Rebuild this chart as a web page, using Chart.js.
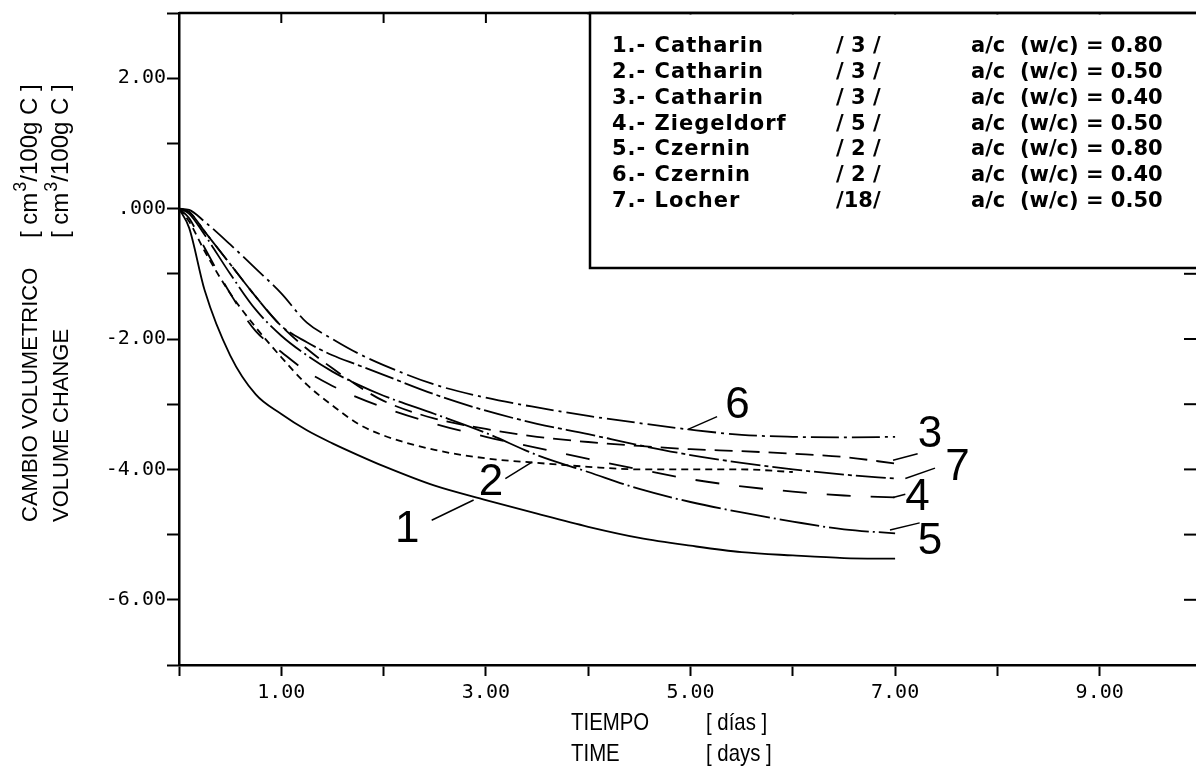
<!DOCTYPE html>
<html>
<head>
<meta charset="utf-8">
<script src="https://cdn.jsdelivr.net/npm/chart.js@4.4.1/dist/chart.umd.min.js"></script>
<style>
  html, body { margin: 0; padding: 0; background: #fff; overflow: hidden; }
  #wrap { position: absolute; left: 0; top: 0; width: 1215px; height: 769px; }
</style>
</head>
<body>
<div id="wrap"><canvas id="myChart" width="1215" height="769"></canvas></div>
<script>
// time in days, shared by all curves
let days = [0, 0.1, 0.25, 0.5, 0.75, 1, 1.25, 1.5, 1.75, 2, 2.5, 3, 3.5, 4, 4.5, 5, 5.5, 6, 6.5, 7];

// volume change [cm3/100g C]
let vol1 = [0, -0.3, -1.25, -2.25, -2.85, -3.15, -3.4, -3.6, -3.78, -3.95, -4.25, -4.47, -4.68, -4.88, -5.05, -5.17, -5.27, -5.32, -5.36, -5.37];
let vol2 = [0, -0.2, -0.65, -1.3, -1.82, -2.28, -2.7, -3.02, -3.3, -3.48, -3.7, -3.83, -3.9, -3.96, -4.0, -4.0, -4.0, -4.04, null, null];
let vol3 = [0, -0.05, -0.35, -0.85, -1.35, -1.8, -2.15, -2.45, -2.72, -2.95, -3.22, -3.38, -3.5, -3.58, -3.64, -3.69, -3.72, -3.76, -3.81, -3.91];
let vol4 = [0, -0.15, -0.6, -1.3, -1.88, -2.2, -2.5, -2.72, -2.9, -3.05, -3.3, -3.5, -3.67, -3.84, -4.0, -4.15, -4.26, -4.34, -4.4, -4.43];
let vol5 = [0, -0.08, -0.4, -1.0, -1.55, -1.95, -2.25, -2.5, -2.7, -2.87, -3.15, -3.44, -3.78, -4.04, -4.3, -4.5, -4.66, -4.8, -4.92, -4.98];
let vol6 = [0, -0.02, -0.2, -0.55, -0.92, -1.3, -1.75, -2.0, -2.22, -2.4, -2.7, -2.9, -3.05, -3.18, -3.29, -3.39, -3.47, -3.5, -3.51, -3.5];
let vol7 = [0, -0.05, -0.35, -0.85, -1.35, -1.8, -2.05, -2.25, -2.4, -2.55, -2.85, -3.1, -3.3, -3.46, -3.63, -3.78, -3.9, -4.0, -4.08, -4.14];

// legend table
let authors = ["1.- Catharin", "2.- Catharin", "3.- Catharin", "4.- Ziegeldorf", "5.- Czernin", "6.- Czernin", "7.- Locher"];
let refs = ["/ 3 /", "/ 3 /", "/ 3 /", "/ 5 /", "/ 2 /", "/ 2 /", "/18/"];
let ratios = ["a/c  (w/c) = 0.80", "a/c  (w/c) = 0.50", "a/c  (w/c) = 0.40", "a/c  (w/c) = 0.50", "a/c  (w/c) = 0.80", "a/c  (w/c) = 0.40", "a/c  (w/c) = 0.50"];

// curve number labels and their leader lines (data units)
let curveNames = ["1", "2", "3", "4", "5", "6", "7"];
let nameX = [2.23, 3.05, 7.34, 7.22, 7.34, 5.46, 7.61];
let nameY = [-4.89, -4.18, -3.44, -4.40, -5.08, -2.99, -3.95];
let leaderFrom = [[2.88, -4.47], [3.45, -3.89], [6.98, -3.86], [6.98, -4.43], [6.95, -4.93], [4.97, -3.39], [7.10, -4.14]];
let leaderTo = [[2.47, -4.78], [3.19, -4.14], [7.22, -3.76], [7.10, -4.38], [7.24, -4.82], [5.26, -3.19], [7.39, -3.98]];

let dashes = [[], [7, 5], [18, 9], [24, 20], [40, 4, 2, 4], [28, 5, 3, 5], [30, 4, 4, 4]];

let curves = [vol1, vol2, vol3, vol4, vol5, vol6, vol7];
let datasets = curves.map((vals, i) => ({
  data: days.map((d, k) => ({ x: d, y: vals[k] })),
  borderColor: "#000",
  borderWidth: 1.8,
  borderDash: dashes[i],
  pointRadius: 0,
  fill: false,
  cubicInterpolationMode: "monotone",
  spanGaps: false
}));

const overlay = {
  id: "overlay",
  afterDraw(chart) {
    const c = chart.ctx;
    const a = chart.chartArea;
    const xs = chart.scales.x, ys = chart.scales.y;
    c.save();
    c.strokeStyle = "#000";
    c.fillStyle = "#000";

    // top and right frame with inward ticks
    c.lineWidth = 2.5;
    c.beginPath();
    c.moveTo(a.left, a.top); c.lineTo(a.right, a.top); c.lineTo(a.right, a.bottom);
    c.stroke();
    c.lineWidth = 2;
    for (let v = 1; v < 10; v++) {
      const px = xs.getPixelForValue(v);
      c.beginPath(); c.moveTo(px, a.top); c.lineTo(px, a.top + 10); c.stroke();
    }
    for (let v = -6; v < 3; v++) {
      const py = ys.getPixelForValue(v);
      c.beginPath(); c.moveTo(a.right, py); c.lineTo(a.right - 18, py); c.stroke();
    }

    // legend box
    const boxL = 590, boxB = 268;
    c.fillStyle = "#fff";
    c.fillRect(boxL - 3, a.top + 1.5, chart.width - boxL + 3, boxB - a.top - 1.5);
    c.lineWidth = 2.5;
    c.beginPath();
    c.moveTo(chart.width, a.top); c.lineTo(boxL, a.top); c.lineTo(boxL, boxB); c.lineTo(chart.width, boxB);
    c.stroke();
    c.fillStyle = "#000";
    c.textBaseline = "middle";
    c.textAlign = "left";
    for (let i = 0; i < authors.length; i++) {
      const y = 47 + i * 25.7;
      c.font = 'bold 21px "DejaVu Sans", sans-serif';
      if ("letterSpacing" in c) c.letterSpacing = "1px";
      c.fillText(authors[i], 612, y);
      if ("letterSpacing" in c) c.letterSpacing = "0px";
      c.fillText(refs[i], 836, y);
      c.fillText(ratios[i], 971, y);
    }

    // curve numbers + leaders
    c.lineWidth = 1.5;
    for (let i = 0; i < curveNames.length; i++) {
      c.beginPath();
      c.moveTo(xs.getPixelForValue(leaderFrom[i][0]), ys.getPixelForValue(leaderFrom[i][1]));
      c.lineTo(xs.getPixelForValue(leaderTo[i][0]), ys.getPixelForValue(leaderTo[i][1]));
      c.stroke();
    }
    c.font = '44px "Liberation Sans", Arial, sans-serif';
    c.textAlign = "center";
    c.textBaseline = "middle";
    for (let i = 0; i < curveNames.length; i++) {
      c.fillText(curveNames[i], xs.getPixelForValue(nameX[i]), ys.getPixelForValue(nameY[i]) + 2);
    }

    // y axis title (rotated, two lines)
    c.save();
    c.rotate(-Math.PI / 2);
    c.textAlign = "left";
    c.textBaseline = "alphabetic";
    const yLines = ["CAMBIO VOLUMETRICO", "VOLUME CHANGE"];
    const yBase = [37, 68];
    for (let i = 0; i < 2; i++) {
      c.font = '22px "Liberation Sans", Arial, sans-serif';
      c.fillText(yLines[i], -522, yBase[i]);
      c.font = '24px "Liberation Sans", Arial, sans-serif';
      let x = -238;
      c.fillText("[ cm", x, yBase[i]);
      x += c.measureText("[ cm").width;
      c.font = '18px "Liberation Sans", Arial, sans-serif';
      c.fillText("3", x + 1, yBase[i] - 11);
      x += c.measureText("3").width + 1;
      c.font = '24px "Liberation Sans", Arial, sans-serif';
      c.fillText("/100g C ]", x, yBase[i]);
    }
    c.restore();

    // x axis title (condensed)
    c.save();
    c.textAlign = "left";
    c.textBaseline = "alphabetic";
    c.font = '24px "Liberation Sans", Arial, sans-serif';
    c.scale(0.85, 1);
    c.fillText("TIEMPO", 571 / 0.85, 730);
    c.fillText("TIME", 571 / 0.85, 761);
    c.fillText("[ días ]", 706 / 0.85, 730);
    c.fillText("[ days ]", 706 / 0.85, 761);
    c.restore();
    c.restore();
  }
};

let ctx = document.getElementById("myChart").getContext("2d");

let myChart = new Chart(ctx, {
  type: "line",
  data: { datasets: datasets },
  plugins: [overlay],
  options: {
    responsive: false,
    animation: false,
    devicePixelRatio: 1,
    layout: { padding: { left: 0, top: 10, right: 13, bottom: 0 } },
    plugins: { legend: { display: false }, tooltip: { enabled: false } },
    scales: {
      x: {
        type: "linear",
        min: 0,
        max: 10,
        afterFit: (s) => { s.height = 104; },
        grid: { drawOnChartArea: false, color: "#000", tickLength: 11, tickWidth: 2 },
        border: { display: true, color: "#000", width: 2.5 },
        ticks: {
          stepSize: 1,
          autoSkip: false,
          maxRotation: 0,
          padding: 5,
          color: "#000",
          font: { family: '"DejaVu Sans Mono", monospace', size: 20 },
          callback: (v) => (v % 2 === 1 ? v.toFixed(2) : "")
        }
      },
      y: {
        min: -7,
        max: 3,
        afterFit: (s) => { s.width = 179; },
        grid: { drawOnChartArea: false, color: "#000", tickLength: 12, tickWidth: 2 },
        border: { display: true, color: "#000", width: 2.5 },
        ticks: {
          stepSize: 1,
          autoSkip: false,
          padding: 1,
          color: "#000",
          font: { family: '"DejaVu Sans Mono", monospace', size: 20 },
          callback: (v) => (v % 2 === 0 ? (v === 0 ? ".000" : v.toFixed(2)) : "")
        }
      }
    }
  }
});
</script>
</body>
</html>
